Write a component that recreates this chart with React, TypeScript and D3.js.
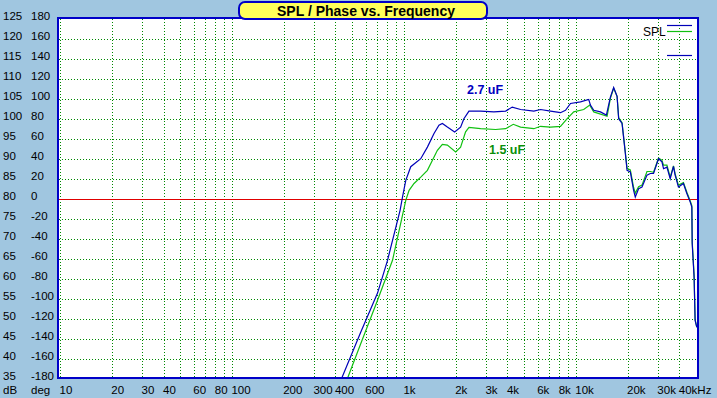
import { useEffect, useRef } from 'react';
import * as d3 from 'd3';

// SPL curves (Hz, dB)
const spl27Freq = [429, 558, 597, 698, 798, 944, 975, 1019, 1089, 1245, 1361, 1487, 1589, 1663, 1778, 1960, 2123, 2219, 2375, 2775, 3317, 3880, 4240, 4740, 5663, 6194, 7080, 8090, 8650, 9250, 10570, 11810, 12080, 12630, 13810, 14960, 15780, 16490, 17260, 17630, 18450, 19280, 19730, 20610, 21540, 22030, 23020, 24100, 25760, 26920, 28130, 30070, 31470, 32160, 33650, 35160, 36740, 37560, 39260, 41980, 43940, 45930, 46980, 47200, 48420, 49080, 50200];
const spl27Db = [35, 46.9, 49.8, 56.6, 64.8, 77.3, 80.6, 84.8, 88.2, 90.2, 93.1, 96.5, 98.6, 99.0, 98.1, 96.9, 98.1, 100.2, 102.1, 102.1, 101.9, 102.1, 103.1, 102.5, 102.1, 102.5, 102.1, 101.7, 102.3, 104.0, 104.4, 105.0, 103.6, 102.3, 101.9, 101.1, 105.6, 108.0, 105.8, 100.2, 99.0, 91.5, 87.3, 86.9, 82.3, 80.6, 82.7, 83.1, 86.1, 86.5, 86.5, 90.2, 89.4, 87.7, 88.1, 85.2, 88.3, 86.1, 83.1, 84.0, 81.5, 79.4, 78.1, 69.0, 60.6, 49.8, 48.1];

const spl15Freq = [464, 558, 698, 853, 1019, 1065, 1138, 1245, 1361, 1456, 1556, 1663, 1778, 1987, 2123, 2270, 2375, 2775, 3390, 3880, 4300, 4740, 5663, 6194, 7080, 8090, 8850, 9660, 11040, 11970, 12630, 15100, 15780, 16490, 17260, 17630, 18450, 19280, 19730, 20610, 21540, 22030, 23020, 24100, 25760, 26920, 28130, 30070, 31470, 32160, 33650, 35160, 36740, 37560, 39260, 41980, 43940, 45930, 46980, 47200, 48420, 49080, 50200];
const spl15Db = [35, 44.0, 54.8, 64.8, 79.8, 82.3, 84.0, 85.6, 87.3, 89.8, 92.3, 93.8, 93.6, 91.9, 93.1, 96.9, 98.0, 97.7, 97.5, 97.7, 98.8, 98.1, 97.7, 98.3, 98.1, 98.3, 100.2, 101.9, 102.5, 103.6, 101.9, 100.8, 105.3, 107.8, 105.8, 100.5, 99.2, 91.8, 87.8, 87.4, 83.0, 81.6, 83.2, 83.6, 87.0, 87.0, 86.8, 90.4, 89.8, 88.6, 88.6, 85.6, 88.4, 86.4, 83.6, 84.2, 81.8, 79.7, 78.5, 69.5, 61.0, 50.0, 48.0];

const dbTicks = [125, 120, 115, 110, 105, 100, 95, 90, 85, 80, 75, 70, 65, 60, 55, 50, 45, 40, 35];
const degTicks = [180, 160, 140, 120, 100, 80, 60, 40, 20, 0, -20, -40, -60, -80, -100, -120, -140, -160, -180];
const freqGrid = [10, 20, 30, 40, 50, 60, 70, 80, 90, 100, 200, 300, 400, 500, 600, 700, 800, 900, 1000, 2000, 3000, 4000, 5000, 6000, 7000, 8000, 9000, 10000, 20000, 30000, 40000];
const freqTicks = [10, 20, 30, 40, 60, 80, 100, 200, 300, 400, 600, 1000, 2000, 3000, 4000, 6000, 8000, 10000, 20000, 30000, 40000];
const freqLabels = ['10', '20', '30', '40', '60', '80', '100', '200', '300', '400', '600', '1k', '2k', '3k', '4k', '6k', '8k', '10k', '20k', '30k', '40kHz'];

const App = () => {
  const ref = useRef<SVGSVGElement>(null);

  useEffect(() => {
    const svg = d3.select(ref.current);
    svg.selectAll('*').remove();
    const font = "'Liberation Sans', Arial, sans-serif";

    const x = d3.scaleLog().domain([10, 50000]).range([60.5, 696.5]);
    const y = d3.scaleLinear().domain([35, 125]).range([379.5, 19.5]);

    svg.append('rect').attr('width', 717).attr('height', 398).attr('fill', '#A0C6E0');
    svg.append('rect')
      .attr('x', 59).attr('y', 19).attr('width', 638).attr('height', 358)
      .attr('fill', '#ffffff');

    svg.append('clipPath').attr('id', 'plot-clip')
      .append('rect').attr('x', 59).attr('y', 19).attr('width', 638).attr('height', 358);

    const grid = svg.append('g').attr('shape-rendering', 'crispEdges');
    grid.selectAll('.hg')
      .data(dbTicks.filter((d) => d > 35 && d < 125 && d !== 80))
      .enter()
      .append('line')
      .attr('x1', 59).attr('x2', 697)
      .attr('y1', (d) => Math.floor(y(d)) + 0.5)
      .attr('y2', (d) => Math.floor(y(d)) + 0.5)
      .attr('stroke', '#008800')
      .attr('stroke-dasharray', '1,2');
    grid.selectAll('.vg')
      .data(freqGrid)
      .enter()
      .append('line')
      .attr('x1', (d) => Math.floor(x(d)) + 0.5)
      .attr('x2', (d) => Math.floor(x(d)) + 0.5)
      .attr('y1', 19).attr('y2', 377)
      .attr('stroke', '#008800')
      .attr('stroke-dasharray', '1,2');

    // 0 deg reference
    svg.append('line')
      .attr('x1', 59).attr('x2', 697)
      .attr('y1', Math.floor(y(80)) + 0.5).attr('y2', Math.floor(y(80)) + 0.5)
      .attr('stroke', '#E00000')
      .attr('stroke-width', 1.2);

    const line = d3.line<[number, number]>()
      .x((d) => x(d[0]))
      .y((d) => y(d[1]));

    const curves = svg.append('g').attr('clip-path', 'url(#plot-clip)');
    curves.append('path')
      .attr('d', line(spl15Freq.map((f, i) => [f, spl15Db[i]] as [number, number])))
      .attr('fill', 'none')
      .attr('stroke', '#10C010')
      .attr('stroke-width', 1.2);
    curves.append('path')
      .attr('d', line(spl27Freq.map((f, i) => [f, spl27Db[i]] as [number, number])))
      .attr('fill', 'none')
      .attr('stroke', '#0000B8')
      .attr('stroke-width', 1.2);

    // plot frame
    svg.append('rect')
      .attr('x', 58).attr('y', 18).attr('width', 640).attr('height', 360)
      .attr('fill', 'none')
      .attr('stroke', '#0000C8')
      .attr('stroke-width', 2);

    // left labels
    svg.selectAll('.dbl')
      .data(dbTicks)
      .enter()
      .append('text')
      .attr('x', 3)
      .attr('y', (d) => y(d))
      .attr('font-family', font).attr('font-size', 11.5)
      .text((d) => d);
    svg.selectAll('.degl')
      .data(degTicks)
      .enter()
      .append('text')
      .attr('x', 31)
      .attr('y', (d, i) => y(dbTicks[i]))
      .attr('font-family', font).attr('font-size', 11.5)
      .text((d) => d);

    // bottom labels
    svg.append('text').attr('x', 3).attr('y', 393.5)
      .attr('font-family', font).attr('font-size', 11.5).text('dB');
    svg.append('text').attr('x', 31).attr('y', 393.5)
      .attr('font-family', font).attr('font-size', 11.5).text('deg');
    svg.selectAll('.fl')
      .data(freqTicks)
      .enter()
      .append('text')
      .attr('x', (d) => x(d) - 1)
      .attr('y', 393.5)
      .attr('font-family', font).attr('font-size', 11.5)
      .text((d, i) => freqLabels[i]);

    // annotations
    svg.append('text').attr('x', 467).attr('y', 94)
      .attr('font-family', font).attr('font-size', 12.5).attr('font-weight', 'bold')
      .attr('fill', '#0000C0').text('2.7 uF');
    svg.append('text').attr('x', 489).attr('y', 154)
      .attr('font-family', font).attr('font-size', 12.5).attr('font-weight', 'bold')
      .attr('fill', '#0A900A').text('1.5 uF');

    // legend
    svg.append('text').attr('x', 643).attr('y', 36)
      .attr('font-family', font).attr('font-size', 12).text('SPL');
    const legend = [
      { y: 25.5, c: '#0000B8' },
      { y: 31.5, c: '#10C010' },
      { y: 55.5, c: '#0000B8' },
    ];
    legend.forEach((l) => {
      svg.append('line')
        .attr('x1', 667).attr('x2', 692)
        .attr('y1', l.y).attr('y2', l.y)
        .attr('stroke', l.c).attr('stroke-width', 1.2);
    });

    // title
    svg.append('rect')
      .attr('x', 239).attr('y', 2).attr('width', 248).attr('height', 17)
      .attr('rx', 6)
      .attr('fill', '#FFFF5A')
      .attr('stroke', '#0000C8')
      .attr('stroke-width', 2);
    svg.append('text')
      .attr('x', 366).attr('y', 15.5)
      .attr('text-anchor', 'middle')
      .attr('font-family', font).attr('font-size', 14).attr('font-weight', 'bold')
      .text('SPL / Phase vs. Frequency');
  }, []);

  return (
    <svg
      ref={ref}
      width={717}
      height={398}
      style={{ position: 'absolute', left: 0, top: 0 }}
    ></svg>
  );
};

export default App;
